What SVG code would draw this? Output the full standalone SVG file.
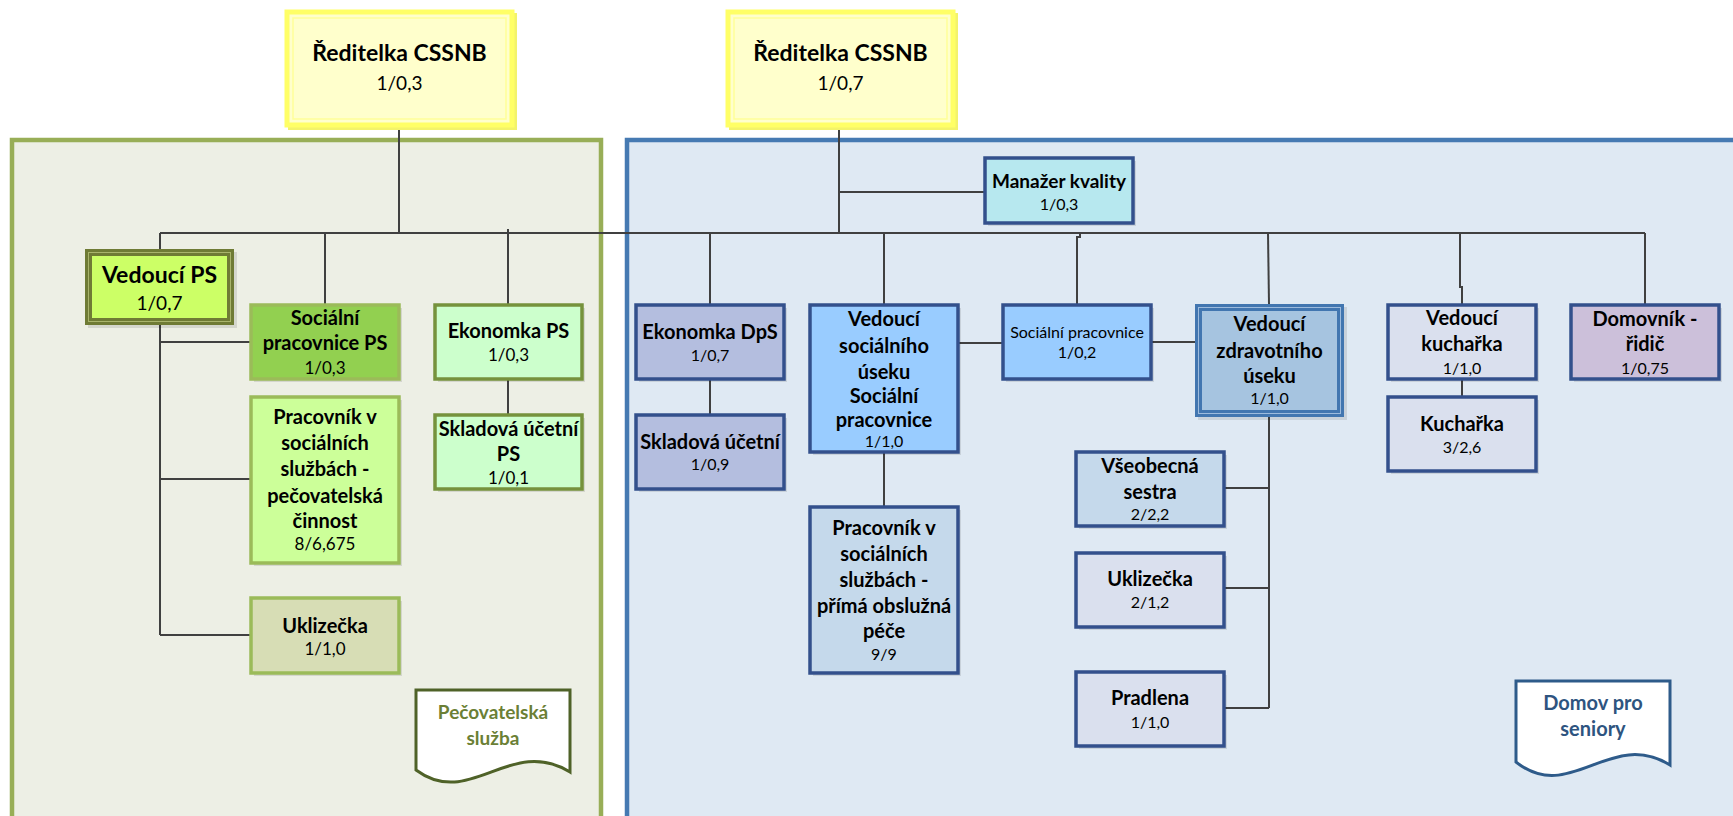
<svg xmlns="http://www.w3.org/2000/svg" width="1733" height="816" viewBox="0 0 1733 816">
<style>
text{font-family:Lato,"Liberation Sans",sans-serif;text-anchor:middle;fill:#000}
.b{font-weight:bold;font-size:20px}
.t{font-weight:bold;font-size:23px}
.n{font-size:17px}
.nr{font-size:16px}
.nl{font-size:19px}
.r{font-size:16px}
.sh{fill:#000;opacity:0.10}
.gl{stroke:#9BBB59;stroke-width:3.5}
.gd{stroke:#76923C;stroke-width:3.5}
.bl{stroke:#33508C;stroke-width:3.5}
.c{fill:none;stroke:#404040;stroke-width:2}
</style>
<rect width="1733" height="816" fill="#FFFFFF"/>
<g id="container-ps">
<rect x="12" y="140" width="589" height="700" fill="#EDEFE5" stroke="#98AE57" stroke-width="4.5"/>
</g>
<g id="container-dps">
<rect x="627" y="140" width="1130" height="700" fill="#DFE9F3" stroke="#467AB2" stroke-width="4.5"/>
</g>
<g id="connectors" class="c">
<path d="M399,125V233"/>
<path d="M160,233H1645"/>
<path d="M160,233V249"/>
<path d="M325,233V305"/>
<path d="M508,229V305"/>
<path d="M508,379V415"/>
<path d="M160,325V635M160,342H251M160,479H251M160,635H251"/>
<path d="M839,125V233M839,192H985"/>
<path d="M710,233V305M710,379V415"/>
<path d="M884,233V305M884,452V507"/>
<path d="M958,343H1003"/>
<path d="M1080,233V237H1077V305"/>
<path d="M1151,342H1195"/>
<path d="M1268,233L1269,304"/>
<path d="M1269,415V708M1224,488H1269M1224,588H1269M1224,708H1269"/>
<path d="M1460,233V287H1462V305"/>
<path d="M1462,379V397"/>
<path d="M1645,233V305"/>
</g>
<g id="reditelka-ps">
<rect x="290" y="15" width="225" height="113" fill="none" stroke="#F3F36A" stroke-width="4"/>
<rect x="287" y="12" width="225" height="113" fill="#FFFFCC" stroke="#FFFF66" stroke-width="5"/>
<rect x="293" y="18" width="213" height="101" fill="none" stroke="#FFFF99" stroke-width="1.5"/>
<text class="t" x="399.5" y="61">Ředitelka CSSNB</text>
<text class="nl" x="399.5" y="90">1/0,3</text>
</g>
<g id="reditelka-dps">
<rect x="731" y="15" width="225" height="113" fill="none" stroke="#F3F36A" stroke-width="4"/>
<rect x="728" y="12" width="225" height="113" fill="#FFFFCC" stroke="#FFFF66" stroke-width="5"/>
<rect x="734" y="18" width="213" height="101" fill="none" stroke="#FFFF99" stroke-width="1.5"/>
<text class="t" x="840.5" y="61">Ředitelka CSSNB</text>
<text class="nl" x="840.5" y="90">1/0,7</text>
</g>
<g id="vedouci-ps">
<rect class="sh" x="88" y="252" width="149" height="76"/>
<rect x="85" y="249" width="149" height="76" fill="#6F7B35"/>
<rect x="92" y="256" width="135" height="62" fill="#CCFF66"/>
<rect x="88.5" y="252.5" width="142" height="69" fill="none" stroke="#A9B46C" stroke-width="1"/>
<text class="t" x="159.5" y="283">Vedoucí PS</text>
<text class="nl" x="159.5" y="310">1/0,7</text>
</g>
<g id="socialni-pracovnice-ps">
<rect class="sh" x="254" y="308" width="148" height="74"/>
<rect class="gl" x="251" y="305" width="148" height="74" fill="#92D050"/>
<text class="b" x="325" y="325">Sociální</text>
<text class="b" x="325" y="350">pracovnice PS</text>
<text class="n" x="325" y="374">1/0,3</text>
</g>
<g id="ekonomka-ps">
<rect class="sh" x="438" y="308" width="147" height="74"/>
<rect class="gd" x="435" y="305" width="147" height="74" fill="#CCFFCC"/>
<text class="b" x="508.5" y="338">Ekonomka PS</text>
<text class="n" x="508.5" y="361">1/0,3</text>
</g>
<g id="skladova-ps">
<rect class="sh" x="438" y="418" width="147" height="74"/>
<rect class="gd" x="435" y="415" width="147" height="74" fill="#CCFFCC"/>
<text class="b" x="508.5" y="436">Skladová účetní</text>
<text class="b" x="508.5" y="461">PS</text>
<text class="n" x="508.5" y="484">1/0,1</text>
</g>
<g id="pracovnik-ps">
<rect class="sh" x="254" y="400" width="148" height="166"/>
<rect class="gl" x="251" y="397" width="148" height="166" fill="#CCFF99"/>
<text class="b" x="325" y="424">Pracovník v</text>
<text class="b" x="325" y="450">sociálních</text>
<text class="b" x="325" y="476">službách -</text>
<text class="b" x="325" y="503">pečovatelská</text>
<text class="b" x="325" y="528">činnost</text>
<text class="n" x="325" y="550">8/6,675</text>
</g>
<g id="uklizecka-ps">
<rect class="sh" x="254" y="601" width="148" height="75"/>
<rect class="gl" x="251" y="598" width="148" height="75" fill="#D7DDB5"/>
<text class="b" x="325" y="633">Uklizečka</text>
<text class="n" x="325" y="655">1/1,0</text>
</g>
<g id="pecovatelska-sluzba">
<path d="M416,690H570V772C510,735 470,810 416,770Z" fill="#FFFFFF" stroke="#4F6228" stroke-width="3"/>
<text class="b" x="493" y="719" style="fill:#6B7F35;font-size:19px">Pečovatelská</text>
<text class="b" x="493" y="745" style="fill:#6B7F35;font-size:19px">služba</text>
</g>
<g id="manazer-kvality">
<rect class="sh" x="988" y="161" width="148" height="65"/>
<rect class="bl" x="985" y="158" width="148" height="65" fill="#B7E8EF"/>
<text class="b" x="1059" y="188" style="font-size:19px">Manažer kvality</text>
<text class="nr" x="1059" y="210">1/0,3</text>
</g>
<g id="ekonomka-dps">
<rect class="sh" x="639" y="308" width="148" height="74"/>
<rect class="bl" x="636" y="305" width="148" height="74" fill="#B4BEDF"/>
<text class="b" x="710" y="339">Ekonomka DpS</text>
<text class="nr" x="710" y="361">1/0,7</text>
</g>
<g id="skladova-dps">
<rect class="sh" x="639" y="418" width="148" height="74"/>
<rect class="bl" x="636" y="415" width="148" height="74" fill="#B4BEDF"/>
<text class="b" x="710" y="449">Skladová účetní</text>
<text class="nr" x="710" y="470">1/0,9</text>
</g>
<g id="vedouci-socialniho-useku">
<rect class="sh" x="813" y="308" width="148" height="147"/>
<rect class="bl" x="810" y="305" width="148" height="147" fill="#99CCFF"/>
<text class="b" x="884" y="326">Vedoucí</text>
<text class="b" x="884" y="353">sociálního</text>
<text class="b" x="884" y="379">úseku</text>
<text class="b" x="884" y="403">Sociální</text>
<text class="b" x="884" y="427">pracovnice</text>
<text class="nr" x="884" y="447">1/1,0</text>
</g>
<g id="pracovnik-dps">
<rect class="sh" x="813" y="510" width="148" height="166"/>
<rect class="bl" x="810" y="507" width="148" height="166" fill="#C5D9EB"/>
<text class="b" x="884" y="535">Pracovník v</text>
<text class="b" x="884" y="561">sociálních</text>
<text class="b" x="884" y="587">službách -</text>
<text class="b" x="884" y="613">přímá obslužná</text>
<text class="b" x="884" y="638">péče</text>
<text class="nr" x="884" y="660">9/9</text>
</g>
<g id="socialni-pracovnice">
<rect class="sh" x="1006" y="308" width="148" height="74"/>
<rect class="bl" x="1003" y="305" width="148" height="74" fill="#99CCFF"/>
<text class="r" x="1077" y="338">Sociální pracovnice</text>
<text class="nr" x="1077" y="358">1/0,2</text>
</g>
<g id="vedouci-zdravotniho-useku">
<rect class="sh" x="1198" y="307" width="149" height="113"/>
<rect x="1195" y="304" width="149" height="113" fill="#4276B0"/>
<rect x="1202" y="311" width="135" height="99" fill="#A6C4E0"/>
<rect x="1198.5" y="307.5" width="142" height="106" fill="none" stroke="#9DBBDD" stroke-width="1"/>
<text class="b" x="1269.5" y="331">Vedoucí</text>
<text class="b" x="1269.5" y="358">zdravotního</text>
<text class="b" x="1269.5" y="383">úseku</text>
<text class="nr" x="1269.5" y="404">1/1,0</text>
</g>
<g id="vseobecna-sestra">
<rect class="sh" x="1079" y="455" width="148" height="74"/>
<rect class="bl" x="1076" y="452" width="148" height="74" fill="#C5D9EB"/>
<text class="b" x="1150" y="473">Všeobecná</text>
<text class="b" x="1150" y="499">sestra</text>
<text class="nr" x="1150" y="520">2/2,2</text>
</g>
<g id="uklizecka-dps">
<rect class="sh" x="1079" y="556" width="148" height="74"/>
<rect class="bl" x="1076" y="553" width="148" height="74" fill="#DAE0EE"/>
<text class="b" x="1150" y="586">Uklizečka</text>
<text class="nr" x="1150" y="608">2/1,2</text>
</g>
<g id="pradlena">
<rect class="sh" x="1079" y="675" width="148" height="74"/>
<rect class="bl" x="1076" y="672" width="148" height="74" fill="#DAE0EE"/>
<text class="b" x="1150" y="705">Pradlena</text>
<text class="nr" x="1150" y="728">1/1,0</text>
</g>
<g id="vedouci-kucharka">
<rect class="sh" x="1391" y="308" width="148" height="74"/>
<rect class="bl" x="1388" y="305" width="148" height="74" fill="#DAE0EE"/>
<text class="b" x="1462" y="325">Vedoucí</text>
<text class="b" x="1462" y="351">kuchařka</text>
<text class="nr" x="1462" y="374">1/1,0</text>
</g>
<g id="kucharka">
<rect class="sh" x="1391" y="400" width="148" height="74"/>
<rect class="bl" x="1388" y="397" width="148" height="74" fill="#DAE0EE"/>
<text class="b" x="1462" y="431">Kuchařka</text>
<text class="nr" x="1462" y="453">3/2,6</text>
</g>
<g id="domovnik-ridic">
<rect class="sh" x="1574" y="308" width="148" height="74"/>
<rect class="bl" x="1571" y="305" width="148" height="74" fill="#CCC0DA"/>
<text class="b" x="1645" y="326">Domovník -</text>
<text class="b" x="1645" y="351">řidič</text>
<text class="nr" x="1645" y="374">1/0,75</text>
</g>
<g id="domov-pro-seniory">
<path d="M1516,681H1670V765C1610,728 1570,805 1516,762Z" fill="#FFFFFF" stroke="#2E5B8A" stroke-width="3"/>
<text class="b" x="1593" y="710" style="fill:#2E5480">Domov pro</text>
<text class="b" x="1593" y="736" style="fill:#2E5480">seniory</text>
</g>
</svg>
